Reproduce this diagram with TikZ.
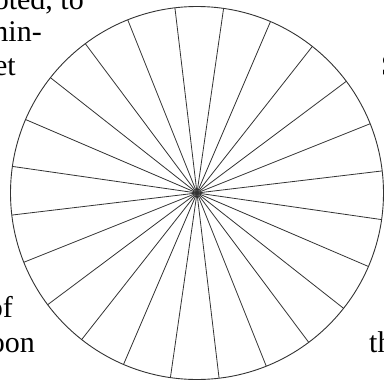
\documentclass[tikz,border=0pt]{standalone}
\usepackage{fontspec}
\setmainfont{Liberation Serif}
\begin{document}
\begin{tikzpicture}[x=1pt,y=-1pt,
  spoke/.style={draw=black!80,line width=0.8pt},
  rim/.style={draw=black!80,line width=0.9pt},
  frag/.style={inner sep=0pt,font=\fontsize{30}{32}\selectfont}]
\useasboundingbox (0,0) rectangle (384,381);
\clip (0,0) rectangle (384,381);
\coordinate (c) at (197,193);
\draw[rim] (c) circle[radius=186.5];
\foreach \k in {0,...,23}{
  \draw[spoke] (c) -- ++({8.2+15*\k}:186.5);
}
\node[frag,anchor=base east] (t1) at (84,9) {oted, to};
\node[frag,anchor=base east] (t2) at (42,41) {min-};
\node[frag,anchor=base east] (t3) at (16,75) {et};
\node[frag,anchor=base west] (t4) at (381,75) {S};
\node[frag,anchor=base east] (t5) at (13,317) {of};
\node[frag,anchor=base east] (t6) at (35,352) {oon};
\node[frag,anchor=base west] (t7) at (369,352) {th};
\end{tikzpicture}
\end{document}
